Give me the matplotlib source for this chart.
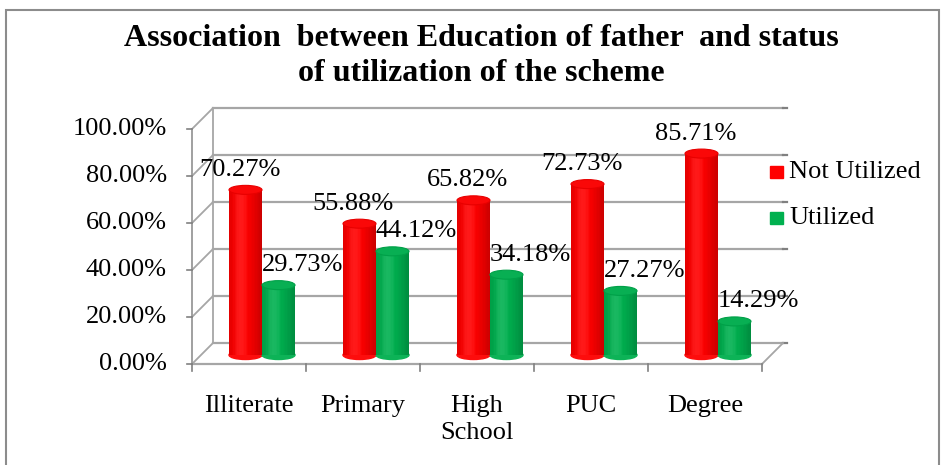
import matplotlib
matplotlib.use("Agg")
import matplotlib.pyplot as plt
import numpy as np
from matplotlib.patches import Ellipse, Rectangle

plt.rcParams['font.family'] = ['Liberation Serif', 'DejaVu Serif']

# data
categories = ["Illiterate", "Primary", "High\nSchool", "PUC", "Degree"]
not_utilized = [0.7027, 0.5588, 0.6582, 0.7273, 0.8571]
utilized = [0.2973, 0.4412, 0.3418, 0.2727, 0.1429]
yticks = [0.0, 0.2, 0.4, 0.6, 0.8, 1.0]
series_names = ["Not Utilized", "Utilized"]
series_colors = [(1.0, 0.0, 0.0), (0.0, 0.69, 0.31)]

W, H = 942, 465
fig = plt.figure(figsize=(W / 100, H / 100), dpi=100)

# front plane of the pseudo 3d box, in pixels
left_px, right_px, zero_px, top_px = 192, 762, 364, 129
ax = fig.add_axes([left_px / W, (H - zero_px) / H, (right_px - left_px) / W, (zero_px - top_px) / H])
ax.set_xlim(-0.5, len(categories) - 0.5)
ax.set_ylim(0, 1)
ax.axis("off")

px_x = (right_px - left_px) / len(categories)   # pixels per category
px_y = zero_px - top_px                           # pixels per 100%

# depth offsets (back wall, and middle where the cylinders sit)
DX, DY = 21 / px_x, 21 / px_y
MX, MY = 13 / px_x, 9 / px_y

grid_col = "#a6a6a6"
x0, x1 = -0.5, len(categories) - 0.5
fs = 19

### back wall + floor
for t in yticks:
    ax.plot([x0 + DX, x1 + DX], [t + DY, t + DY], color=grid_col, lw=1.6, clip_on=False, zorder=1)
    ax.plot([x0, x0 + DX], [t, t + DY], color=grid_col, lw=1.3, clip_on=False, zorder=1)
    ax.plot([x1 + DX, x1 + DX + 4 / px_x], [t + DY, t + DY], color="#808080", lw=1.6, clip_on=False, zorder=1)
    # left ticks + labels
    ax.plot([x0 - 5 / px_x, x0], [t, t], color="#808080", lw=1.2, clip_on=False)
    ax.text(x0 - 25 / px_x, t, "{:.2f}%".format(t * 100), ha="right", va="center", fontsize=fs)

ax.plot([x0 + DX, x0 + DX], [DY, 1 + DY], color=grid_col, lw=1.3, clip_on=False, zorder=1)
ax.plot([x0, x1], [0, 0], color=grid_col, lw=1.6, clip_on=False, zorder=1)
ax.plot([x1, x1 + DX], [0, DY], color=grid_col, lw=1.3, clip_on=False, zorder=1)
ax.plot([x0, x0], [0, 1], color="#999999", lw=1.3, clip_on=False, zorder=1)

# bottom ticks
for b in np.arange(x0, x1 + 0.01, 1.0):
    ax.plot([b, b], [0, -7 / px_y], color="#808080", lw=1.2, clip_on=False)

### cylinders
bw = 33 / px_x
eh = 9 / px_y
nslices = 24


def shade(col, t):
    # t goes 0..1 across the cylinder, highlight a bit left of center
    f = 0.86 + 0.14 * np.cos((t - 0.4) * np.pi * 1.1)
    c = np.array(col) * f
    hl = max(0.0, 0.10 * np.cos((t - 0.35) * np.pi * 2.2))
    return tuple(np.clip(c + (1 - c) * hl, 0, 1))


def cylinder(cx, val, col, z):
    base = MY
    xl = cx - bw / 2
    sw = bw / nslices
    ax.add_patch(Ellipse((cx, base), bw, eh, color=shade(col, 0.5), zorder=z - 0.5, clip_on=False))
    for k in range(nslices):
        t = (k + 0.5) / nslices
        ax.bar(xl + k * sw, val, width=sw * 1.05, bottom=base, align="edge",
               color=shade(col, t), lw=0, zorder=z, clip_on=False)
    topc = tuple(np.clip(np.array(col) * 0.95 + 0.03, 0, 1))
    ax.add_patch(Ellipse((cx, base + val), bw, eh, facecolor=topc,
                         edgecolor=shade(col, 0.05), lw=0.8, zorder=z + 0.5, clip_on=False))


for i in range(len(categories)):
    cx = i + MX
    cylinder(cx - bw / 2, not_utilized[i], series_colors[0], 5)
    cylinder(cx + bw / 2, utilized[i], series_colors[1], 5)
    ax.annotate("{:.2f}%".format(not_utilized[i] * 100), xy=(cx - bw / 2, not_utilized[i] + MY),
                xytext=(-6 * 0.72, 20 * 0.72), textcoords="offset points",
                ha="center", va="center", fontsize=fs, zorder=10)
    ax.annotate("{:.2f}%".format(utilized[i] * 100), xy=(cx + bw / 2, utilized[i] + MY),
                xytext=(24 * 0.72, 20 * 0.72), textcoords="offset points",
                ha="center", va="center", fontsize=fs, zorder=10)
    ax.annotate(categories[i], xy=(i, 0), xytext=(0, -31 * 0.72), textcoords="offset points",
                ha="center", va="top", fontsize=fs, linespacing=1.32)

### legend
for j, name in enumerate(series_names):
    yc = 172 + j * 46
    fig.patches.append(Rectangle((770 / W, (H - yc - 6) / H), 13 / W, 12 / H,
                                 transform=fig.transFigure, color=series_colors[j]))
    fig.text(789 / W, (H - yc) / H, name, ha="left", va="center", fontsize=fs)

### title
fig.text(481 / W, (H - 56) / H, "Association  between Education of father  and status\nof utilization of the scheme",
         ha="center", va="center", fontsize=23, fontweight="bold", linespacing=1.25)

# outer frame
fig.patches.append(Rectangle((6 / W, -0.05), 933 / W, (H - 10) / H + 0.05, transform=fig.transFigure,
                             fill=False, edgecolor="#8c8c8c", lw=1.5))

fig.savefig("out.png", dpi=100)
